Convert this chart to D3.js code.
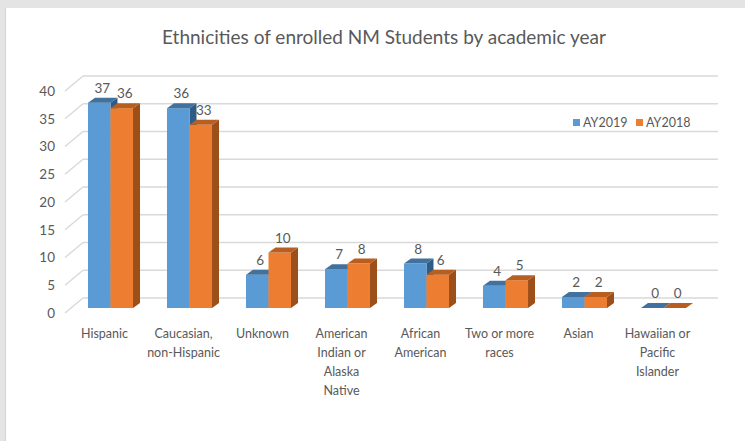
<!DOCTYPE html>
<html>
<head>
<meta charset="utf-8">
<script src="https://cdn.jsdelivr.net/npm/d3@7"></script>
<style>
  html, body { margin: 0; padding: 0; background: #e4e4e4; }
  svg { display: block; }
  text { font-family: Lato, "Open Sans", sans-serif; fill: #595959; }
</style>
</head>
<body>
<svg id="chart" width="745" height="441"></svg>
<script>
// categories (line breaks follow the wrapping in the original)
const categories = ["Hispanic", "Caucasian,\nnon-Hispanic", "Unknown", "American\nIndian or\nAlaska\nNative",
  "African\nAmerican", "Two or more\nraces", "Asian", "Hawaiian or\nPacific\nIslander"]
const seriesNames = ["AY2019", "AY2018"]
const ay2019 = [37, 36, 6, 7, 8, 4, 2, 0]
const ay2018 = [36, 33, 10, 8, 6, 5, 2, 0]
const yTicks = [0, 5, 10, 15, 20, 25, 30, 35, 40]

const colors = {
  AY2019: { front: "#5b9bd5", top: "#41719c", side: "#2f5c86" },
  AY2018: { front: "#ed7d31", top: "#b85e20", side: "#9c4f19" }
}

const svg = d3.select("#chart")

// white card
svg.append("rect").attr("x", 6).attr("y", 8).attr("width", 739).attr("height", 433).attr("fill", "#fff")
svg.append("line").attr("x1", 5.5).attr("x2", 5.5).attr("y1", 8).attr("y2", 441).attr("stroke", "#d4d4d4")

svg.append("text")
    .attr("x", 384).attr("y", 44)
    .attr("text-anchor", "middle")
    .style("font-size", "19px")
    .text("Ethnicities of enrolled NM Students by academic year")

const x = d3.scaleBand().domain(categories).range([65, 697]).paddingInner(0.43).paddingOuter(0.215)
const x1 = d3.scaleBand().domain(seriesNames).range([0, x.bandwidth()])
const y = d3.scaleLinear().domain([0, 40]).range([308, 86])

// wall depth and bar depth
const wallDx = 18, wallDy = 15
const barOff = 6
const bdx = 7, bdy = 5

// gridlines on back wall + side wall diagonals
const grid = svg.append("g").attr("stroke", "#d9d9d9").attr("stroke-width", 1.4)
grid.selectAll("line.h")
  .data(yTicks)
  .join("line")
    .attr("class", "h")
    .attr("x1", 65 + wallDx).attr("x2", 718)
    .attr("y1", d => y(d) + 5 - wallDy).attr("y2", d => y(d) + 5 - wallDy)
grid.selectAll("line.d")
  .data(yTicks)
  .join("line")
    .attr("class", "d")
    .attr("x1", 65).attr("x2", 65 + wallDx)
    .attr("y1", d => y(d) + 5).attr("y2", d => y(d) + 5 - wallDy)

// y tick labels
svg.append("g").selectAll("text")
  .data(yTicks)
  .join("text")
    .attr("x", 55)
    .attr("y", d => y(d) + 5)
    .attr("dy", "0.36em")
    .attr("text-anchor", "end")
    .style("font-size", "13.5px")
    .text(d => d)

// bars
const rows = categories.map((c, i) => ({ cat: c, values: [
  { key: "AY2019", value: ay2019[i] },
  { key: "AY2018", value: ay2018[i] }
]}))

const bars = svg.append("g")
rows.forEach(row => {
  row.values.forEach(v => {
    const bx = x(row.cat) + x1(v.key) + barOff
    const w = x1.bandwidth()
    const yt = y(v.value)
    const y0 = y(0)
    const c = colors[v.key]
    const g = bars.append("g")
    if (v.value > 0) {
      g.append("polygon")
        .attr("points", [[bx + w, yt], [bx + w + bdx, yt - bdy], [bx + w + bdx, y0 - bdy], [bx + w, y0]].join(" "))
        .attr("fill", c.side)
      g.append("rect")
        .attr("x", bx).attr("y", yt).attr("width", w).attr("height", y0 - yt)
        .attr("fill", c.front)
    }
    g.append("polygon")
      .attr("points", [[bx, yt], [bx + bdx, yt - bdy], [bx + w + bdx, yt - bdy], [bx + w, yt]].join(" "))
      .attr("fill", c.top)
  })
})

// value labels
rows.forEach(row => {
  svg.append("g").selectAll("text")
    .data(row.values)
    .join("text")
      .attr("x", d => x(row.cat) + x1(d.key) + barOff + x1.bandwidth() / 2 + 3)
      .attr("y", d => y(d.value) - 10)
      .attr("text-anchor", "middle")
      .style("font-size", "13.5px")
      .text(d => d.value)
})

// category labels
const catLabels = svg.append("g").selectAll("text")
  .data(categories)
  .join("text")
    .attr("x", d => x(d) + x.bandwidth() / 2)
    .attr("y", 338)
    .attr("text-anchor", "middle")
    .style("font-size", "12.5px")
catLabels.selectAll("tspan")
  .data(d => d.split("\n").map(t => ({ t, x: x(d) + x.bandwidth() / 2 })))
  .join("tspan")
    .attr("x", d => d.x)
    .attr("dy", (d, i) => i ? 19 : 0)
    .text(d => d.t)

// legend
const legendX = [573, 636]
const legend = svg.append("g").selectAll("g")
  .data(seriesNames)
  .join("g")
    .attr("transform", (d, i) => `translate(${legendX[i]},123)`)
legend.append("rect")
    .attr("x", 0).attr("y", -4).attr("width", 7).attr("height", 7)
    .attr("fill", d => colors[d].front)
legend.append("text")
    .attr("x", 10).attr("dy", "0.35em")
    .style("font-size", "12.5px")
    .text(d => d)
</script>
</body>
</html>
